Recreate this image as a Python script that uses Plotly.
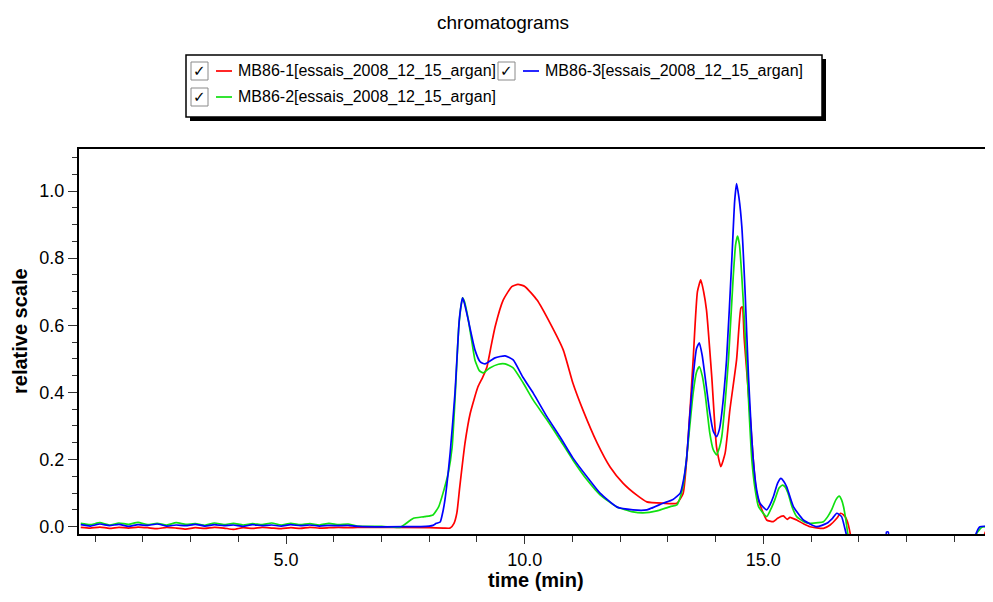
import plotly.graph_objects as go

# ---------------- data ----------------
BASE_T = [0.7, 0.9, 1.1, 1.3, 1.5, 1.7, 1.9, 2.1, 2.3, 2.5, 2.7, 2.9, 3.1, 3.3, 3.5,
          3.7, 3.9, 4.1, 4.3, 4.5, 4.7, 4.9, 5.1, 5.3, 5.5, 5.7, 5.9, 6.1, 6.3]

red_base = [-0.002, -0.004, -0.001, -0.005, -0.002, -0.004, -0.001, -0.003, -0.006, -0.002,
            -0.004, -0.007, -0.003, -0.005, -0.002, -0.004, -0.008, -0.003, -0.005, -0.002,
            -0.004, -0.006, -0.003, -0.005, -0.002, -0.004, -0.003, -0.002, -0.003]
blue_base = [0.006, 0.002, 0.008, 0.003, 0.007, 0.001, 0.006, 0.004, 0.008, 0.002,
             0.005, 0.003, 0.007, 0.002, 0.006, 0.003, 0.005, 0.001, 0.006, 0.003,
             0.005, 0.002, 0.006, 0.003, 0.005, 0.002, 0.004, 0.003, 0.004]
green_base = [0.010, 0.006, 0.012, 0.005, 0.011, 0.007, 0.013, 0.006, 0.010, 0.005,
              0.012, 0.007, 0.009, 0.004, 0.011, 0.006, 0.010, 0.005, 0.009, 0.006,
              0.011, 0.005, 0.010, 0.006, 0.009, 0.005, 0.010, 0.006, 0.008]

red_t = [6.5, 8.0, 8.3, 8.44, 8.52, 8.58, 8.64, 8.75, 8.86, 9.02, 9.12, 9.21, 9.30, 9.38, 9.55,
         9.73, 9.86, 10.01, 10.26, 10.53, 10.81, 11.01, 11.22, 11.52, 11.79, 12.06, 12.35, 12.56,
         12.90, 13.19, 13.32, 13.42, 13.53, 13.62, 13.69, 13.75, 13.81, 13.92, 14.02, 14.11, 14.20,
         14.30, 14.44, 14.53, 14.56, 14.60, 14.66, 14.72, 14.79, 14.86, 15.00, 15.07, 15.21, 15.30,
         15.42, 15.50, 15.56, 15.70, 15.85, 15.98, 16.26, 16.40, 16.54, 16.62, 16.68, 16.75, 16.82,
         16.9, 19.55, 19.62, 19.67, 19.73, 19.78, 19.81]
red_v = [-0.002, -0.003, -0.004, -0.004, 0.010, 0.041, 0.118, 0.249, 0.338, 0.416, 0.445, 0.476, 0.540,
         0.595, 0.675, 0.715, 0.722, 0.715, 0.675, 0.607, 0.526, 0.428, 0.348, 0.249, 0.178, 0.130,
         0.094, 0.074, 0.070, 0.070, 0.099, 0.250, 0.497, 0.700, 0.735, 0.700, 0.645, 0.447, 0.238,
         0.179, 0.219, 0.348, 0.497, 0.651, 0.655, 0.560, 0.450, 0.338, 0.199, 0.099, 0.040, 0.020,
         0.015, 0.025, 0.032, 0.022, 0.028, 0.020, 0.008, 0.000, -0.005, 0.005, 0.025, 0.040, 0.035,
         0.020, -0.020, -0.100, -0.100, -0.030, -0.012, -0.012, -0.030, -0.050]

blue_t = [6.5, 7.5, 8.0, 8.08, 8.15, 8.23, 8.28, 8.33, 8.44, 8.54, 8.63, 8.68, 8.70, 8.74, 8.82, 8.96,
          9.07, 9.17, 9.38, 9.59, 9.76, 9.96, 10.18, 10.47, 10.74, 11.01, 11.31, 11.58, 11.93, 12.27,
          12.56, 12.90, 13.10, 13.26, 13.33, 13.39, 13.46, 13.53, 13.60, 13.66, 13.72, 13.78, 13.88,
          13.95, 14.02, 14.08, 14.13, 14.23, 14.34, 14.40, 14.44, 14.49, 14.55, 14.62, 14.69, 14.79,
          14.86, 14.93, 15.07, 15.14, 15.21, 15.30, 15.37, 15.43, 15.49, 15.63, 15.84, 16.12, 16.33,
          16.45, 16.54, 16.64, 16.70, 16.75, 16.85, 17.55, 17.58, 17.62, 17.65, 19.35, 19.46, 19.54,
          19.81]
blue_v = [0.001, 0.000, 0.002, 0.004, 0.010, 0.014, 0.040, 0.080, 0.221, 0.397, 0.615, 0.670, 0.682,
          0.665, 0.615, 0.526, 0.491, 0.485, 0.503, 0.509, 0.497, 0.446, 0.398, 0.327, 0.268, 0.205,
          0.148, 0.100, 0.059, 0.050, 0.050, 0.070, 0.080, 0.100, 0.140, 0.199, 0.330, 0.447, 0.530,
          0.548, 0.510, 0.447, 0.338, 0.285, 0.268, 0.290, 0.338, 0.497, 0.794, 0.970, 1.022, 0.980,
          0.894, 0.695, 0.447, 0.199, 0.110, 0.070, 0.050, 0.065, 0.089, 0.130, 0.144, 0.135, 0.119,
          0.060, 0.020, 0.000, 0.010, 0.025, 0.040, 0.030, 0.000, -0.030, -0.100, -0.100, -0.016,
          -0.016, -0.100, -0.100, -0.020, 0.000, 0.000]

green_t = [6.5, 7.0, 7.39, 7.5, 7.67, 7.9, 8.08, 8.2, 8.29, 8.40, 8.48, 8.54, 8.62, 8.67, 8.70, 8.74,
           8.81, 8.90, 8.96, 9.05, 9.13, 9.27, 9.45, 9.59, 9.76, 9.97, 10.18, 10.47, 10.74, 11.01,
           11.31, 11.58, 11.93, 12.27, 12.48, 12.77, 13.05, 13.19, 13.26, 13.33, 13.39, 13.46, 13.53,
           13.60, 13.66, 13.72, 13.78, 13.88, 13.95, 14.02, 14.08, 14.13, 14.20, 14.27, 14.37, 14.42,
           14.46, 14.50, 14.55, 14.65, 14.70, 14.76, 14.83, 14.90, 15.07, 15.15, 15.24, 15.33, 15.40,
           15.46, 15.52, 15.60, 15.70, 15.85, 15.98, 16.15, 16.26, 16.35, 16.43, 16.52, 16.59, 16.64,
           16.68, 16.73, 16.78, 16.9, 19.35, 19.47, 19.58, 19.81]
green_v = [0.002, 0.001, -0.002, 0.008, 0.025, 0.030, 0.035, 0.060, 0.100, 0.160, 0.236, 0.377, 0.595,
           0.660, 0.682, 0.670, 0.624, 0.546, 0.496, 0.465, 0.458, 0.473, 0.484, 0.485, 0.473, 0.428,
           0.377, 0.318, 0.259, 0.199, 0.139, 0.095, 0.059, 0.044, 0.041, 0.047, 0.060, 0.065, 0.088,
           0.130, 0.199, 0.300, 0.398, 0.460, 0.477, 0.450, 0.397, 0.278, 0.230, 0.214, 0.235, 0.268,
           0.370, 0.497, 0.745, 0.840, 0.866, 0.840, 0.745, 0.497, 0.350, 0.199, 0.110, 0.060, 0.030,
           0.050, 0.080, 0.115, 0.124, 0.118, 0.099, 0.060, 0.030, 0.015, 0.010, 0.012, 0.015, 0.030,
           0.050, 0.080, 0.091, 0.080, 0.060, 0.020, -0.030, -0.100, -0.100, -0.020, -0.002, 0.003]

series_names = ["MB86-1[essais_2008_12_15_argan]",
                "MB86-2[essais_2008_12_15_argan]",
                "MB86-3[essais_2008_12_15_argan]"]
series_colors = ["#ff0000", "#10e010", "#0000ff"]

x_ticks = [5.0, 10.0, 15.0]
y_ticks = [0.0, 0.2, 0.4, 0.6, 0.8, 1.0]

# ---------------- layout geometry (screen pixels of the page) ----------------
OFF = 8                                  # default page body margin
W, H = 993 - OFF, 602 - OFF              # figure size so that it fits the window
L, R, T, B = 79, 993, 149, 534           # plot area, screen pixels
X_RANGE = [(L - 47.35) / 47.73, (R - 47.35) / 47.73]
Y_RANGE = [-(B - 526.7) / 335.7, (526.7 - T) / 335.7]


def px(x):
    return (x - L) / (R - L)


def py(y):
    return (B - y) / (B - T)


FONT = "Liberation Sans, Arial, sans-serif"

fig = go.Figure()
data = [
    (BASE_T + red_t, red_base + red_v),
    (BASE_T + green_t, green_base + green_v),
    (BASE_T + blue_t, blue_base + blue_v),
]
for (tt, vv), name, col in zip(data, series_names, series_colors):
    fig.add_trace(go.Scatter(x=tt, y=vv, mode="lines", name=name,
                             line=dict(color=col, width=1.7, shape="spline", smoothing=0.5),
                             showlegend=False))

fig.update_layout(
    width=W, height=H,
    margin=dict(l=L - OFF, r=(W + OFF) - R, t=T - OFF, b=(H + OFF) - B, pad=0),
    paper_bgcolor="white", plot_bgcolor="white",
    font=dict(family=FONT, color="black"),
    xaxis=dict(range=X_RANGE, showgrid=False, zeroline=False,
               showline=True, linecolor="black", linewidth=2, mirror=True,
               ticks="outside", ticklen=8, tickwidth=1, tickcolor="#333",
               tickvals=x_ticks, tickformat=".1f",
               tickfont=dict(size=18, family=FONT),
               minor=dict(dtick=1, ticks="outside", ticklen=6, tickcolor="#333", tickwidth=1)),
    yaxis=dict(range=Y_RANGE, showgrid=False, zeroline=False,
               showline=True, linecolor="black", linewidth=2,
               ticks="outside", ticklen=9, tickwidth=1, tickcolor="#333",
               tickvals=y_ticks, tickformat=".1f",
               tickfont=dict(size=18, family=FONT),
               minor=dict(dtick=0.05, tick0=0, ticks="outside", ticklen=5, tickcolor="#333", tickwidth=1)),
)

shapes = []
annotations = []

# title and axis titles
annotations.append(dict(text="chromatograms", x=px(503), y=py(22), xref="paper", yref="paper",
                        showarrow=False, font=dict(size=19, family=FONT), xanchor="center", yanchor="middle"))
annotations.append(dict(text="<b>time (min)</b>", x=px(536), y=py(580), xref="paper", yref="paper",
                        showarrow=False, font=dict(size=20, family=FONT), xanchor="center", yanchor="middle"))
annotations.append(dict(text="<b>relative scale</b>", x=px(20), y=py(331), xref="paper", yref="paper",
                        showarrow=False, textangle=-90, font=dict(size=20, family=FONT),
                        xanchor="center", yanchor="middle"))

# legend box with shadow
shapes.append(dict(type="rect", xref="paper", yref="paper", x0=px(190), x1=px(826), y0=py(59), y1=py(121),
                   fillcolor="black", line=dict(width=0), layer="above"))
shapes.append(dict(type="rect", xref="paper", yref="paper", x0=px(186), x1=px(822), y0=py(55), y1=py(117),
                   fillcolor="white", line=dict(color="black", width=1.5), layer="above"))

legend_items = [  # (checkbox left x, row center y) for each series in series order
    (191, 71),
    (191, 97),
    (498, 71),
]
for (cx, cy), name, col in zip(legend_items, series_names, series_colors):
    shapes.append(dict(type="rect", xref="paper", yref="paper", x0=px(cx), x1=px(cx + 17),
                       y0=py(cy - 9), y1=py(cy + 9), fillcolor="white",
                       line=dict(color="#8a8a8a", width=1), layer="above"))
    annotations.append(dict(text="<b>✓</b>", x=px(cx + 8.5), y=py(cy), xref="paper", yref="paper",
                            showarrow=False, font=dict(size=15, family="DejaVu Sans", color="black"),
                            xanchor="center", yanchor="middle"))
    shapes.append(dict(type="line", xref="paper", yref="paper", x0=px(cx + 25), x1=px(cx + 41),
                       y0=py(cy), y1=py(cy), line=dict(color=col, width=1.7), layer="above"))
    annotations.append(dict(text=name, x=px(cx + 45), y=py(cy), xref="paper", yref="paper",
                            showarrow=False, font=dict(size=16, family=FONT),
                            xanchor="left", yanchor="middle"))

fig.update_layout(shapes=shapes, annotations=annotations)
fig.write_html("out.html")
